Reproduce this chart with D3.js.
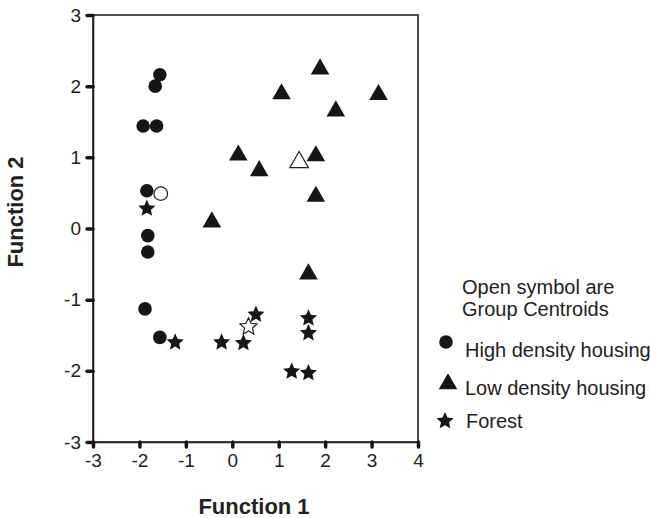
<!DOCTYPE html>
<html>
<head>
<meta charset="utf-8">
<script src="https://cdn.jsdelivr.net/npm/d3@7/dist/d3.min.js"></script>
<style>
  body { margin: 0; background: #fff; }
  svg { display: block; font-family: "Liberation Sans", Arial, sans-serif; }
</style>
</head>
<body>
<svg id="chart" width="650" height="518"></svg>
<script>
// discriminant scores
var highX = [-1.56, -1.66, -1.92, -1.63, -1.84, -1.82, -1.82, -1.88, -1.56];
var highY = [2.16, 2.00, 1.44, 1.44, 0.53, -0.10, -0.33, -1.13, -1.53];
var lowX = [1.89, 1.06, 3.15, 2.23, 0.13, 0.58, 1.80, 1.80, -0.44, 1.64];
var lowY = [2.24, 1.89, 1.88, 1.65, 1.03, 0.81, 1.02, 0.45, 0.09, -0.64];
var forestX = [-1.84, -1.23, -0.23, 0.24, 0.51, 1.64, 1.64, 1.28, 1.64];
var forestY = [0.28, -1.60, -1.60, -1.61, -1.21, -1.26, -1.47, -2.01, -2.03];
// group centroids (open symbols)
var centX = [-1.54, 1.44, 0.35];
var centY = [0.49, 0.93, -1.38];

var xTicks = [-3, -2, -1, 0, 1, 2, 3, 4];
var yTicks = [-3, -2, -1, 0, 1, 2, 3];
var legendLabels = ["High density housing", "Low density housing", "Forest"];

var ink = "#161616";
var svg = d3.select("#chart");

var x = d3.scaleLinear().domain([-3, 4]).range([93, 418]);
var y = d3.scaleLinear().domain([-3, 3]).range([442, 15]);

// five point star with fatter arms than d3.symbolStar, size = outer radius
var fatStar = {
    draw: function(ctx, size){
	var R = size, r = size * 0.47;
	for (var i = 0; i < 10; i++){
	    var a = -Math.PI / 2 + i * Math.PI / 5;
	    var rad = i % 2 ? r : R;
	    if (i == 0) ctx.moveTo(rad * Math.cos(a), rad * Math.sin(a));
	    else ctx.lineTo(rad * Math.cos(a), rad * Math.sin(a));
	}
	ctx.closePath();
    }
};

var shapes = [
    d3.symbol().type(d3.symbolCircle).size(145),
    d3.symbol().type(d3.symbolTriangle).size(150),
    d3.symbol().type(fatStar).size(9)
];

// box
svg.append("rect")
    .attr("x", x(-3)).attr("y", y(3))
    .attr("width", x(4) - x(-3)).attr("height", y(-3) - y(3))
    .attr("fill", "none").attr("stroke", "#222").attr("stroke-width", 1.6);

// axes
var xAxis = svg.append("g")
    .attr("transform", "translate(0," + y(-3) + ")")
    .call(d3.axisBottom(x).tickValues(xTicks).tickSize(5).tickPadding(7)
	  .tickFormat(d => String(d)));
var yAxis = svg.append("g")
    .attr("transform", "translate(" + x(-3) + ",0)")
    .call(d3.axisLeft(y).tickValues(yTicks).tickSize(6).tickPadding(6)
	  .tickFormat(d => String(d)));

[xAxis, yAxis].forEach(function(a){
    a.select(".domain").attr("stroke", "#222").attr("stroke-width", 1.6);
    a.selectAll(".tick line").attr("stroke", ink).attr("stroke-width", 3.5)
	.attr("stroke-linecap", "round");
    a.selectAll(".tick text").attr("fill", "#222")
	.style("font-size", "19px").style("font-family", "Liberation Sans, Arial, sans-serif");
});

// axis titles
svg.append("text")
    .attr("x", 254).attr("y", 514)
    .attr("text-anchor", "middle")
    .style("font-size", "22px").style("font-weight", "bold")
    .attr("fill", "#222")
    .text("Function 1");
svg.append("text")
    .attr("transform", "translate(23,212) rotate(-90)")
    .attr("text-anchor", "middle")
    .style("font-size", "22px").style("font-weight", "bold")
    .attr("fill", "#222")
    .text("Function 2");

// points
function drawGroup(xs, ys, shape){
    svg.append("g").selectAll("path")
	.data(xs.map((v, i) => [v, ys[i]]))
	.join("path")
	.attr("transform", d => "translate(" + x(d[0]) + "," + y(d[1]) + ")")
	.attr("d", shape)
	.attr("fill", ink);
}
drawGroup(highX, highY, shapes[0]);
drawGroup(lowX, lowY, shapes[1]);
drawGroup(forestX, forestY, shapes[2]);

svg.append("g").selectAll("path")
    .data(centX.map((v, i) => [v, centY[i], i]))
    .join("path")
    .attr("transform", d => "translate(" + x(d[0]) + "," + y(d[1]) + ")")
    .attr("d", d => shapes[d[2]]())
    .attr("fill", "#fff")
    .attr("stroke", "#222")
    .attr("stroke-width", 1.2);

// legend
var note = svg.append("text")
    .attr("x", 462).attr("y", 294)
    .style("font-size", "20px").attr("fill", "#222");
note.append("tspan").attr("x", 462).text("Open symbol are");
note.append("tspan").attr("x", 462).attr("dy", 22).text("Group Centroids");

var legY = [342, 384, 421];
var legText = [357, 395, 428];
var legX = [446, 448, 445];
legendLabels.forEach(function(lab, i){
    svg.append("path")
	.attr("transform", "translate(" + legX[i] + "," + legY[i] + ")")
	.attr("d", shapes[i]())
	.attr("fill", ink);
    svg.append("text")
	.attr("x", i == 2 ? 466 : 465).attr("y", legText[i])
	.style("font-size", "20px").attr("fill", "#222")
	.text(lab);
});
</script>
</body>
</html>
